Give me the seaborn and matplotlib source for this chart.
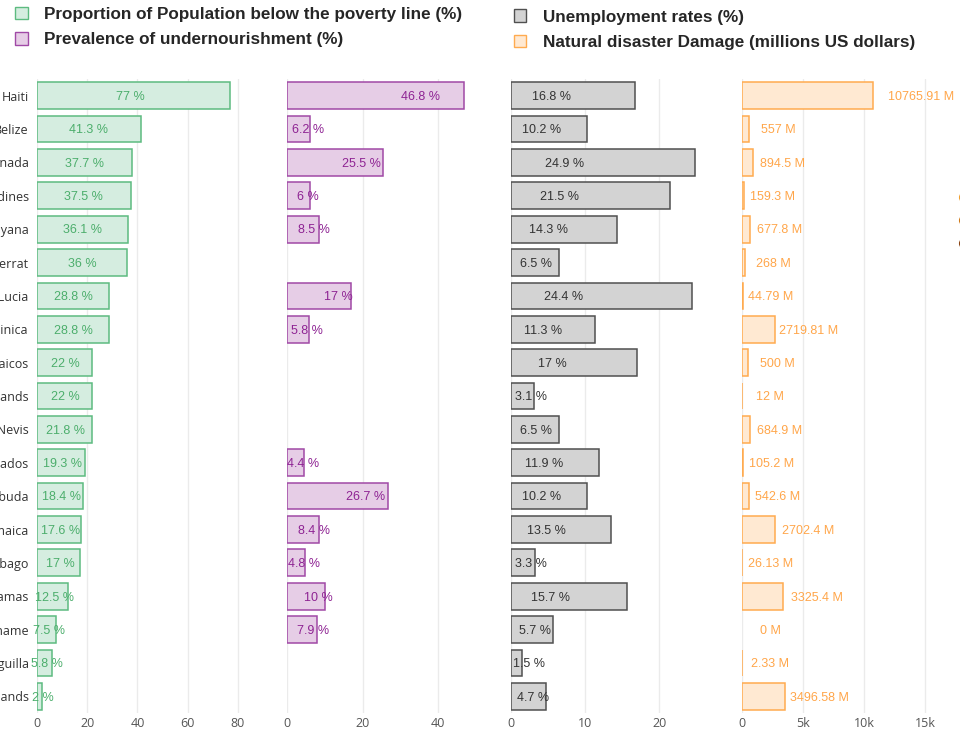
import numpy as np
import pandas as pd
import seaborn as sns
import matplotlib.pyplot as plt
from matplotlib.patches import Patch
from matplotlib.lines import Line2D

# data
countries = ["Haiti", "Belize", "Grenada", "St Vincent and the Grenadines", "Guyana",
             "Montserrat", "Saint Lucia", "Dominica", "Turks and Caicos",
             "British Virgin Islands", "Saint Kitts and Nevis", "Barbados",
             "Antigua and Barbuda", "Jamaica", "Trinidad and Tobago", "Bahamas",
             "Suriname", "Anguilla", "Cayman Islands"]
poverty = [77, 41.3, 37.7, 37.5, 36.1, 36, 28.8, 28.8, 22, 22, 21.8, 19.3, 18.4,
           17.6, 17, 12.5, 7.5, 5.8, 2]
undernourishment = [46.8, 6.2, 25.5, 6, 8.5, np.nan, 17, 5.8, np.nan, np.nan, np.nan,
                    4.4, 26.7, 8.4, 4.8, 10, 7.9, np.nan, np.nan]
unemployment = [16.8, 10.2, 24.9, 21.5, 14.3, 6.5, 24.4, 11.3, 17, 3.1, 6.5, 11.9,
                10.2, 13.5, 3.3, 15.7, 5.7, 1.5, 4.7]
damage = [10765.91, 557, 894.5, 159.3, 677.8, 268, 44.79, 2719.81, 500, 12, 684.9,
          105.2, 542.6, 2702.4, 26.13, 3325.4, 0, 2.33, 3496.58]

legend_left = ["Proportion of Population below the poverty line (%)",
               "Prevalence of undernourishment (%)"]
legend_right = ["Unemployment rates (%)",
                "Natural disaster Damage (millions US dollars)"]

df = pd.DataFrame({"country": countries, "poverty": poverty,
                   "undernourishment": undernourishment,
                   "unemployment": unemployment, "damage": damage})

sns.set_theme(style="white")
plt.rcParams['font.family'] = ['Liberation Sans', 'DejaVu Sans']

fig = plt.figure(figsize=(9.6, 7.36), dpi=100)

def fmt(v):
    return ('%.2f' % v).rstrip('0').rstrip('.')

# (column, left px, xmax, fill, edge, text colour, label pos a, b, suffix)
panels = [
    ("poverty", 37, 87.6, "#d5ede0", "#5dbb80", "#4cae6c", 0.464, 1.27, " %"),
    ("undernourishment", 287, 58.2, "#e6cde6", "#a049a6", "#8e2393", 0.736, 1.0, " %"),
    ("unemployment", 511, 29.7, "#d3d3d3", "#505050", "#333333", 0.206, 2.06, " %"),
    ("damage", 742, 18030, "#ffe9d2", "#ffab4f", "#ffa64a", 1.15, 2300, " M"),
]
ticks = [[0, 20, 40, 60, 80], [0, 20, 40], [0, 10, 20], [0, 5000, 10000, 15000]]
ticklabels = [None, None, None, ["0", "5k", "10k", "15k"]]

bottom = 1 - 713 / 736
height = (713 - 79) / 736
width = 220 / 960

for i, (col, left, xmax, fill, edge, tcol, a, b, suf) in enumerate(panels):
    ax = fig.add_axes([left / 960, bottom, width, height])
    sns.barplot(data=df, y="country", x=col, order=countries, orient="h",
                color=fill, edgecolor=edge, linewidth=1.1, saturation=1,
                width=0.8, errorbar=None, ax=ax)
    for p in ax.patches:
        p.set_facecolor(fill)
        if p.get_width() == 0:
            p.set_linewidth(0)
    for j, v in enumerate(df[col]):
        if np.isnan(v):
            continue
        ax.text(a * v + b, j + 0.04, fmt(v) + suf, ha="center", va="center",
                fontsize=9, color=tcol)
    ax.set_xlim(0, xmax)
    ax.set_ylim(len(countries) - 0.5, -0.5)
    ax.set_xticks(ticks[i])
    if ticklabels[i]:
        ax.set_xticklabels(ticklabels[i])
    ax.grid(axis="x", color="#ebebeb", linewidth=1)
    ax.set_axisbelow(True)
    sns.despine(ax=ax, left=True, bottom=True)
    ax.set_xlabel("")
    ax.set_ylabel("")
    ax.tick_params(axis="x", length=0, pad=3, labelsize=9, labelcolor="#555555")
    for t in ax.get_xticklabels():
        t.set_fontfamily("Open Sans")
    if i == 0:
        ax.tick_params(axis="y", length=0, pad=6, labelsize=9, labelcolor="#333333")
        for t in ax.get_yticklabels():
            t.set_fontfamily("Open Sans")
    else:
        ax.set_yticklabels([])
        ax.tick_params(axis="y", length=0)

# legends
h_left = [Patch(facecolor=panels[0][3], edgecolor=panels[0][4]),
          Patch(facecolor=panels[1][3], edgecolor=panels[1][4])]
h_right = [Patch(facecolor=panels[2][3], edgecolor=panels[2][4]),
           Patch(facecolor=panels[3][3], edgecolor=panels[3][4])]
fig.legend(h_left, legend_left, loc="upper left", bbox_to_anchor=(0.0, 1.012),
           frameon=False, handlelength=0.75, handleheight=0.75, handletextpad=0.95,
           labelspacing=0.6, prop={"weight": "bold", "size": 12.3})
fig.legend(h_right, legend_right, loc="upper left", bbox_to_anchor=(0.519, 1.008),
           frameon=False, handlelength=0.75, handleheight=0.75, handletextpad=0.95,
           labelspacing=0.6, prop={"weight": "bold", "size": 12.3})

# markers cut off at the right edge
for yy, c in zip([197, 220, 243], ["#f0a030", "#d07a18", "#8b4513"]):
    fig.add_artist(Line2D([964 / 960], [1 - yy / 736], marker="o", markersize=7,
                          color=c, transform=fig.transFigure))

fig.savefig("out.png", dpi=100)
